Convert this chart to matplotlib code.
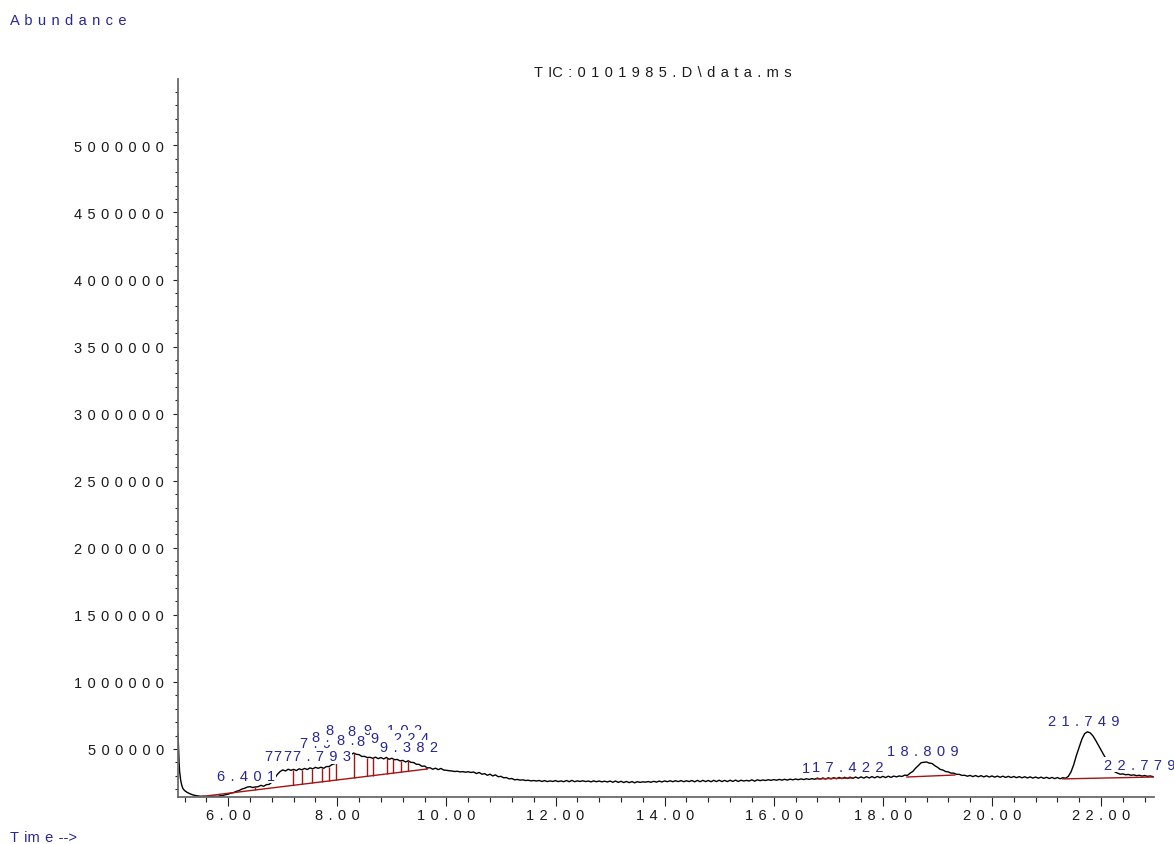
import numpy as np
import matplotlib
matplotlib.use("Agg")
import matplotlib.pyplot as plt
from matplotlib.ticker import MultipleLocator, FuncFormatter

# ---------------- data (abundance in thousands) ----------------
head_times = [5.08, 5.09, 5.10, 5.11, 5.13, 5.15, 5.17]
head_k = [615, 500, 400, 330, 265, 228, 205]

grid_start = 5.20
grid_step = 0.05
trace_k = [
    190, 176, 166, 158, 153, 150, 147, 148, 145, 147,   # 5.20
    146, 148, 146, 151, 153, 159, 163, 171, 175, 184,   # 5.70
    190, 201, 207, 216, 219, 213, 217, 219, 229, 222,   # 6.20
    234, 236, 252, 280, 310, 331, 344, 336, 349, 341,   # 6.70
    348, 339, 352, 345, 355, 347, 359, 352, 363, 356,   # 7.20
    364, 356, 369, 369, 383, 390, 405, 423, 452, 456,   # 7.70
    468, 458, 470, 460, 458, 444, 445, 436, 438, 430,   # 8.20
    439, 428, 436, 426, 437, 423, 431, 420, 422, 411,   # 8.70
    415, 403, 412, 400, 399, 386, 385, 371, 373, 359,   # 9.20
    360, 349, 357, 346, 355, 343, 341, 338, 336, 332,   # 9.70
    334, 329, 331, 327, 330, 325, 328, 317, 325, 312,   # 10.20
    316, 304, 312, 299, 307, 293, 296, 285, 287, 277,   # 10.70
    280, 270, 273, 268, 270, 265, 267, 262, 265, 261,   # 11.20
    265, 258, 264, 257, 262, 258, 264, 257, 262, 256,   # 11.70
    265, 256, 266, 256, 262, 258, 263, 257, 261, 255,   # 12.20
    262, 256, 261, 255, 260, 254, 261, 252, 261, 251,   # 12.70
    259, 250, 258, 249, 257, 248, 256, 251, 255, 253,   # 13.20
    257, 252, 259, 253, 261, 254, 262, 256, 263, 256,   # 13.70
    263, 257, 264, 256, 263, 257, 265, 255, 266, 256,   # 14.20
    266, 257, 265, 256, 266, 257, 267, 257, 266, 257,   # 14.70
    267, 258, 268, 258, 267, 261, 266, 261, 270, 260,   # 15.20
    270, 264, 269, 265, 271, 266, 272, 267, 273, 268,   # 15.70
    274, 268, 275, 270, 276, 271, 277, 272, 278, 273,   # 16.20
    279, 274, 283, 275, 284, 276, 285, 277, 286, 278,   # 16.70
    288, 279, 289, 280, 290, 281, 291, 282, 292, 283,   # 17.20
    293, 284, 294, 285, 295, 286, 296, 287, 297, 288,   # 17.70
    298, 292, 299, 295, 305, 303, 320, 333, 357, 376,   # 18.20
    397, 401, 403, 395, 392, 376, 364, 348, 343, 332,   # 18.70
    329, 320, 320, 311, 311, 303, 304, 297, 303, 294,   # 19.20
    302, 293, 301, 292, 300, 291, 299, 290, 298, 289,   # 19.70
    297, 288, 296, 287, 295, 286, 294, 285, 293, 284,   # 20.20
    292, 283, 291, 282, 290, 281, 289, 280, 288, 279,   # 20.70
    287, 278, 286, 282, 296, 330, 385, 455, 515, 575,   # 21.20
    615, 628, 620, 598, 565, 528, 490, 455, 420, 385,   # 21.70
    355, 330, 320, 312, 314, 308, 310, 304, 307, 301,   # 22.20
    304, 298, 302, 296, 299, 294,                       # 22.70
]

# integration baselines: (t_start, k_start, t_end, k_end)
baseline_t0 = [5.50, 16.79, 18.44, 21.30]
baseline_k0 = [145, 277, 291, 277]
baseline_t1 = [9.65, 17.45, 19.32, 22.96]
baseline_k1 = [351, 284, 306, 291]

# peak split (drop) lines inside first baseline
drop_times = [6.50, 7.19, 7.36, 7.54, 7.72, 7.85, 7.98, 8.31, 8.55, 8.66,
              8.92, 9.03, 9.16, 9.30, 9.63]

# peak retention-time labels
peak_times = [6.401, 7.276, 7.451, 7.629, 7.793, 7.918, 8.143, 8.395, 8.602,
              8.798, 8.968, 9.102, 9.224, 9.382, 17.253, 17.422, 18.809,
              21.749, 22.779]
label_lift_px = [0, 3, 2, 1, 0, 10, 7, 14, 6, 16, 7, 19, 12, 4, 0, 0, 0, 0, 0]

title_tokens = ["T", "IC", ":", "0", "1", "0", "1", "9", "8", "5", ".", "D", "\\",
                "d", "a", "t", "a", ".", "m", "s"]
ylabel_tokens = list("Abundance")
xlabel_tokens = ["T", "im", "e", "-->"]

# ---------------- build arrays ----------------
times = np.concatenate([head_times,
                        grid_start + grid_step * np.arange(len(trace_k))])
abund = np.concatenate([head_k, trace_k]) * 1000.0

FONT = ["Liberation Sans", "DejaVu Sans"]
BLUE = "#26269a"
RED = "#a31515"
FS = 10.5
SEP = " \u200a"

def spaced(s):
    return SEP.join(list(s))

W, H = 1174, 845
fig = plt.figure(figsize=(W / 100, H / 100), dpi=100)
ax = fig.add_axes([178 / W, (H - 798) / H, 976 / W, (798 - 80) / H])

ax.plot(times, abund, color="black", lw=1.0, zorder=2)

# baselines
for t0, k0, t1, k1 in zip(baseline_t0, baseline_k0, baseline_t1, baseline_k1):
    ax.plot([t0, t1], [k0 * 1000, k1 * 1000], color=RED, lw=1.0, zorder=2.5)

# drop lines
b_bottom = np.interp(drop_times, [baseline_t0[0], baseline_t1[0]],
                     [baseline_k0[0] * 1000, baseline_k1[0] * 1000])
b_top = np.interp(drop_times, times, abund)
ax.vlines(drop_times, b_bottom, b_top, color=RED, lw=1.0, zorder=2.5)

# labels
px2pt = 72 / 100
for t, lift in zip(peak_times, label_lift_px):
    yv = np.interp(t, times, abund)
    ax.annotate(spaced(f"{t:.3f}"), xy=(t, yv), xytext=(-4 * px2pt, (11 + lift) * px2pt),
                textcoords="offset points", ha="center", va="center",
                fontsize=FS, family=FONT, color=BLUE, zorder=3,
                annotation_clip=False,
                bbox=dict(boxstyle="square,pad=0.05", facecolor="white", edgecolor="none"))

ax.set_xlim(5.08, 22.97)
ax.set_ylim(142000, 5495000)

ax.xaxis.set_major_locator(MultipleLocator(2))
ax.xaxis.set_minor_locator(MultipleLocator(0.4))
ax.yaxis.set_major_locator(MultipleLocator(500000))
ax.yaxis.set_minor_locator(MultipleLocator(100000))
ax.xaxis.set_major_formatter(FuncFormatter(lambda v, p: spaced(f"{v:.2f}")))
ax.yaxis.set_major_formatter(FuncFormatter(lambda v, p: spaced(f"{int(round(v))}")))

for s in ["top", "right"]:
    ax.spines[s].set_visible(False)
for s in ["left", "bottom"]:
    ax.spines[s].set_color("#6a6a6a")
    ax.spines[s].set_linewidth(1.3)

ax.tick_params(axis="x", which="major", length=6.5, width=0.8, pad=1.5, colors="#222222")
ax.tick_params(axis="x", which="minor", length=3.6, width=0.8, colors="#222222")
ax.tick_params(axis="y", which="major", length=3.6, width=0.8, pad=6.5, colors="#222222")
ax.tick_params(axis="y", which="minor", length=2.4, width=0.8, colors="#222222")
for lab in ax.get_xticklabels() + ax.get_yticklabels():
    lab.set_family(FONT)
    lab.set_fontsize(FS)
    lab.set_color("#1a1a1a")

fig.text(10 / W, 1 - 21 / H, SEP.join(ylabel_tokens), family=FONT, fontsize=FS,
         color=BLUE, ha="left", va="center")
fig.text(10 / W, 1 - 838 / H, SEP.join(xlabel_tokens), family=FONT, fontsize=FS,
         color=BLUE, ha="left", va="center")
fig.text(663 / W, 1 - 73 / H, SEP.join(title_tokens), family=FONT, fontsize=FS,
         color="#1a1a1a", ha="center", va="center")

fig.savefig("out.png", dpi=100)
